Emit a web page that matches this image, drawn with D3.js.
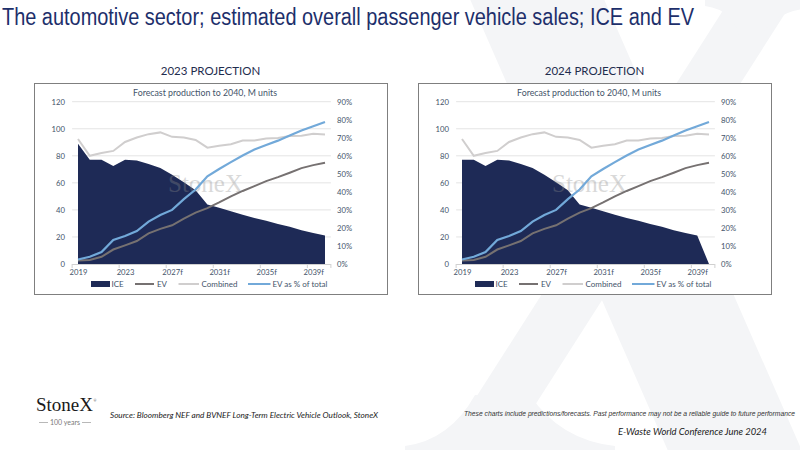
<!DOCTYPE html>
<html>
<head>
<meta charset="utf-8">
<script src="https://cdn.jsdelivr.net/npm/d3@7"></script>
<style>
  html, body { margin: 0; padding: 0; background: #ffffff; }
  svg { display: block; }
</style>
</head>
<body>
<script>
// ---------- DATA ----------
const categories = ["2019","2020","2021","2022","2023","2024f","2025f","2026f","2027f","2028f","2029f",
  "2030f","2031f","2032f","2033f","2034f","2035f","2036f","2037f","2038f","2039f","2040f"];
const tickLabels = ["2019","2023","2027f","2031f","2035f","2039f"];
const leftTicks = [0, 20, 40, 60, 80, 100, 120];
const rightTicks = [0, 0.1, 0.2, 0.3, 0.4, 0.5, 0.6, 0.7, 0.8, 0.9];
const seriesNames = ["ICE", "EV", "Combined", "EV as % of total"];

// 2023 projection (M units, share)
const ice2023 = [89, 77, 77, 72.5, 77, 76.5, 74, 71, 66, 60.5, 54.5, 44, 41.5, 39, 36.5, 34, 32, 29.5, 27.5, 25, 23, 21];
const ev2023 = [2.5, 3, 5.3, 10.7, 13.8, 17, 22.6, 26, 28.6, 33.5, 38, 41.3, 45.5, 50, 54, 57.6, 61.3, 64.2, 67.5, 70.9, 73.1, 74.9];
const combined2023 = [92.4, 80, 82, 83.6, 90.2, 93.5, 96, 97.3, 94, 93.5, 91.7, 86, 87.4, 88.5, 91.3, 91.3, 92.8, 93.2, 94.6, 94.8, 96.3, 95.7];
const evShare2023 = [0.025, 0.04, 0.066, 0.133, 0.155, 0.183, 0.235, 0.272, 0.30, 0.36, 0.413, 0.486, 0.527, 0.565, 0.602, 0.635, 0.66, 0.684, 0.712, 0.74, 0.764, 0.787];

// 2024 projection
const ice2024 = [77, 77, 72.5, 77, 76.5, 74, 71, 66, 60.5, 54.5, 44, 41.5, 39, 36.5, 34, 32, 29.5, 27.5, 25, 23, 21, 0];
const ev2024 = [2.5, 3, 5.3, 10.7, 13.8, 17, 22.6, 26, 28.6, 33.5, 38, 41.3, 45.5, 50, 54, 57.6, 61.3, 64.2, 67.5, 70.9, 73.1, 74.9];
const combined2024 = [92.4, 80, 82, 83.6, 90.2, 93.5, 96, 97.3, 94, 93.5, 91.7, 86, 87.4, 88.5, 91.3, 91.3, 92.8, 93.2, 94.6, 94.8, 96.3, 95.7];
const evShare2024 = [0.025, 0.04, 0.066, 0.133, 0.155, 0.183, 0.235, 0.272, 0.30, 0.36, 0.413, 0.486, 0.527, 0.565, 0.602, 0.635, 0.66, 0.684, 0.712, 0.74, 0.764, 0.787];

// ---------- STYLE ----------
const C = {
  ice: "#1e2a56", ev: "#767171", comb: "#d0cece", pct: "#72a9d9",
  text: "#44546a", head: "#1f2d4e", title: "#1d2f6b", grid: "#e4e4e4", axis: "#d0d0d0",
  wm: "#f4f5f7"
};
const chartFont = "Lato, 'Open Sans', sans-serif";

const svg = d3.select("body").append("svg").attr("width", 800).attr("height", 450);
svg.append("rect").attr("width", 800).attr("height", 450).attr("fill", "#ffffff");

// ---------- Background X watermark ----------
const wm = svg.append("g").attr("fill", C.wm);
wm.append("path").attr("d", "M466,-10 L600,-10 L806,460 L672,460 Z");
wm.append("path").attr("d", "M736,-10 L800,-10 L500,460 L436,460 Z");
wm.append("path").attr("d", "M405,460 L615,460 L615,446 Q560,440 530,395 L475,395 Q450,440 405,446 Z");
wm.append("path").attr("d", "M705,-10 L810,-10 L810,8 Q770,12 760,40 L740,40 Q735,10 705,6 Z");

// ---------- Main title ----------
svg.append("text")
  .attr("x", 2).attr("y", 25)
  .attr("font-family", "'Liberation Sans Narrow', 'Liberation Sans', Arial, sans-serif")
  .attr("font-size", 23)
  .attr("textLength", 692).attr("lengthAdjust", "spacingAndGlyphs")
  .attr("fill", C.title)
  .text("The automotive sector; estimated overall passenger vehicle sales; ICE and EV");

// ---------- Charts ----------
const charts = [
  { heading: "2023 PROJECTION", bx: 34, ice: ice2023, ev: ev2023, comb: combined2023, pct: evShare2023 },
  { heading: "2024 PROJECTION", bx: 418, ice: ice2024, ev: ev2024, comb: combined2024, pct: evShare2024 }
];

charts.forEach(c => {
  const bx = c.bx, by = 83, bw = 353, bh = 211;
  const g = svg.append("g");

  g.append("text").attr("x", bx + bw / 2).attr("y", 75)
    .attr("text-anchor", "middle").attr("font-family", chartFont).attr("font-size", 11.5)
    .attr("fill", C.head).text(c.heading);

  g.append("rect").attr("x", bx + 0.5).attr("y", by + 0.5).attr("width", bw).attr("height", bh)
    .attr("fill", "#ffffff").attr("stroke", "#7f7f7f").attr("stroke-width", 1);

  g.append("text").attr("x", bx + 171).attr("y", 96)
    .attr("text-anchor", "middle").attr("font-family", chartFont).attr("font-size", 8.8)
    .attr("fill", C.text).text("Forecast production to 2040, M units");

  const x = d3.scalePoint().domain(categories).range([bx + 44, bx + 291]);
  const step = x.step();
  const y = d3.scaleLinear().domain([0, 120]).range([264, 101.7]);
  const yR = d3.scaleLinear().domain([0, 0.9]).range([264, 101.7]);
  const plotL = x(categories[0]) - step / 2, plotR = x(categories[categories.length - 1]) + step / 2;

  // gridlines
  g.append("g").selectAll("line").data(leftTicks.filter(d => d > 0)).join("line")
    .attr("x1", plotL).attr("x2", plotR)
    .attr("y1", d => y(d)).attr("y2", d => y(d))
    .attr("stroke", C.grid).attr("stroke-width", 1);

  // left axis
  const ax = g.append("g").attr("transform", `translate(${bx + 34},0)`)
    .call(d3.axisLeft(y).tickValues(leftTicks).tickSize(0).tickPadding(3));
  ax.select(".domain").remove();
  ax.selectAll("text").attr("font-family", chartFont).attr("font-size", 7.7).attr("fill", C.text);

  // right axis
  const ar = g.append("g").attr("transform", `translate(${bx + 303},0)`)
    .call(d3.axisRight(yR).tickValues(rightTicks).tickFormat(d3.format(".0%")).tickSize(0).tickPadding(0));
  ar.select(".domain").remove();
  ar.selectAll("text").attr("font-family", chartFont).attr("font-size", 7.7).attr("fill", C.text);

  // ICE area
  const area = d3.area().x((d, i) => x(categories[i])).y0(y(0)).y1(d => y(d));
  g.append("path").datum(c.ice).attr("d", area).attr("fill", C.ice);

  // StoneX watermark in plot
  g.append("text").attr("x", (x(categories[0]) + x(categories[21])) / 2 + 4).attr("y", 192)
    .attr("text-anchor", "middle").attr("font-family", "'Liberation Serif', 'DejaVu Serif', serif")
    .attr("font-size", 25).attr("fill", "#8a8a8a").attr("opacity", 0.32).text("StoneX");

  // bottom axis line & ticks
  g.append("line").attr("x1", plotL).attr("x2", plotR).attr("y1", y(0) + 0.5).attr("y2", y(0) + 0.5)
    .attr("stroke", C.axis).attr("stroke-width", 1);
  const tickPos = [0, 4, 8, 12, 16, 20].map(i => x(categories[i]) - step / 2).concat([plotR]);
  g.append("g").selectAll("line").data(tickPos).join("line")
    .attr("x1", d => d).attr("x2", d => d).attr("y1", y(0)).attr("y2", y(0) + 4)
    .attr("stroke", C.axis).attr("stroke-width", 1);

  const axb = g.append("g").attr("transform", `translate(0,${y(0)})`)
    .call(d3.axisBottom(x).tickValues(tickLabels).tickSize(0).tickPadding(6));
  axb.select(".domain").remove();
  axb.selectAll("text").attr("font-family", chartFont).attr("font-size", 7.7).attr("fill", C.text);

  // lines
  const line = d3.line().x((d, i) => x(categories[i])).y(d => y(d));
  const lineR = d3.line().x((d, i) => x(categories[i])).y(d => yR(d));
  g.append("path").datum(c.ev).attr("d", line).attr("fill", "none").attr("stroke", C.ev).attr("stroke-width", 2);
  g.append("path").datum(c.comb).attr("d", line).attr("fill", "none").attr("stroke", C.comb).attr("stroke-width", 2);
  g.append("path").datum(c.pct).attr("d", lineR).attr("fill", "none").attr("stroke", C.pct).attr("stroke-width", 2.2);

  // legend
  const ly = 284;
  const lg = g.append("g").attr("font-family", chartFont).attr("font-size", 8).attr("fill", C.text);
  lg.append("rect").attr("x", bx + 57).attr("y", ly - 3).attr("width", 19).attr("height", 6).attr("fill", C.ice);
  lg.append("text").attr("x", bx + 77.5).attr("y", ly + 3).text(seriesNames[0]);
  lg.append("line").attr("x1", bx + 101).attr("x2", bx + 120).attr("y1", ly).attr("y2", ly).attr("stroke", C.ev).attr("stroke-width", 2);
  lg.append("text").attr("x", bx + 123).attr("y", ly + 3).text(seriesNames[1]);
  lg.append("line").attr("x1", bx + 144.5).attr("x2", bx + 165).attr("y1", ly).attr("y2", ly).attr("stroke", C.comb).attr("stroke-width", 2);
  lg.append("text").attr("x", bx + 167.5).attr("y", ly + 3).text(seriesNames[2]);
  lg.append("line").attr("x1", bx + 214).attr("x2", bx + 236.5).attr("y1", ly).attr("y2", ly).attr("stroke", C.pct).attr("stroke-width", 2);
  lg.append("text").attr("x", bx + 238.5).attr("y", ly + 3).text(seriesNames[3]);
});

// ---------- Footer ----------
const logo = svg.append("g");
logo.append("text").attr("x", 36).attr("y", 411)
  .attr("font-family", "'Liberation Serif', 'DejaVu Serif', serif").attr("font-size", 19)
  .attr("textLength", 57).attr("lengthAdjust", "spacingAndGlyphs")
  .attr("fill", "#1a1a1a").text("StoneX");
logo.append("text").attr("x", 93.5).attr("y", 402).attr("font-family", "Lato, sans-serif")
  .attr("font-size", 3.5).attr("fill", "#555").text("®");
logo.append("line").attr("x1", 39).attr("x2", 48).attr("y1", 422.5).attr("y2", 422.5).attr("stroke", "#9a9a9a").attr("stroke-width", 0.7);
logo.append("line").attr("x1", 82).attr("x2", 91).attr("y1", 422.5).attr("y2", 422.5).attr("stroke", "#9a9a9a").attr("stroke-width", 0.7);
logo.append("text").attr("x", 65).attr("y", 425).attr("text-anchor", "middle")
  .attr("font-family", "Lato, sans-serif").attr("font-size", 7).attr("fill", "#7a7a7a").text("100 years");

svg.append("text").attr("x", 110).attr("y", 417.5)
  .attr("font-family", "Lato, sans-serif").attr("font-style", "italic").attr("font-size", 7.6)
  .attr("textLength", 268).attr("lengthAdjust", "spacingAndGlyphs")
  .attr("fill", "#1a1a1a").text("Source: Bloomberg NEF and BVNEF  Long-Term Electric Vehicle Outlook, StoneX");

svg.append("text").attr("x", 464).attr("y", 415.5)
  .attr("font-family", "'Liberation Sans', Arial, sans-serif").attr("font-style", "italic").attr("font-size", 6.4)
  .attr("textLength", 331).attr("lengthAdjust", "spacingAndGlyphs")
  .attr("fill", "#333").text("These charts include predictions/forecasts.  Past performance may not be a reliable guide to future performance");

svg.append("text").attr("x", 618).attr("y", 434.5)
  .attr("font-family", "Lato, sans-serif").attr("font-style", "italic").attr("font-size", 9.6)
  .attr("textLength", 149).attr("lengthAdjust", "spacingAndGlyphs")
  .attr("fill", "#1a1a1a").text("E-Waste World Conference June 2024");
</script>
</body>
</html>
